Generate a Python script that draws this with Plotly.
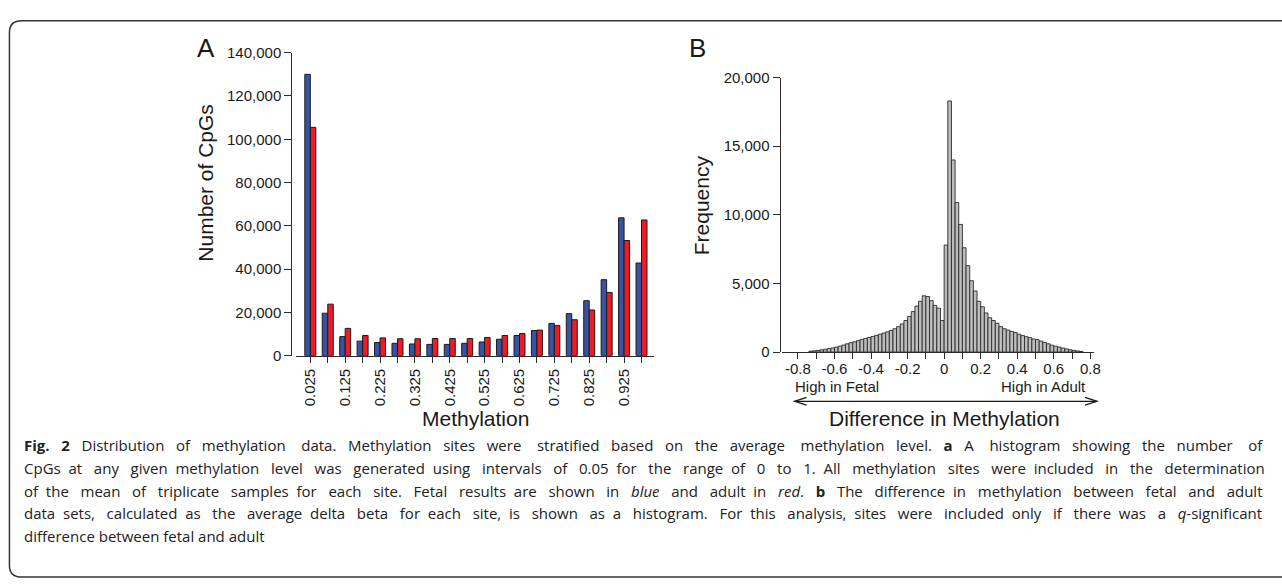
import plotly.graph_objects as go

W, H = 1282, 586

def px(x):
    return x / W

def py(y):
    return 1 - y / H

# ---------------- Panel A data ----------------
meth_bins = [0.025, 0.075, 0.125, 0.175, 0.225, 0.275, 0.325, 0.375, 0.425, 0.475,
             0.525, 0.575, 0.625, 0.675, 0.725, 0.775, 0.825, 0.875, 0.925, 0.975]
meth_labels = ["0.025", "", "0.125", "", "0.225", "", "0.325", "", "0.425", "",
               "0.525", "", "0.625", "", "0.725", "", "0.825", "", "0.925", ""]
fetal_counts = [130000, 19600, 8800, 6700, 6100, 5700, 5400, 5200, 5200, 5700,
                6300, 7600, 9300, 11600, 14900, 19400, 25400, 35100, 63700, 42800]
adult_counts = [105500, 23800, 12600, 9300, 8200, 7800, 7800, 7900, 7900, 7900,
                8400, 9300, 10200, 11800, 13900, 16600, 21100, 29200, 53200, 62700]
countA_ticks = [0, 20000, 40000, 60000, 80000, 100000, 120000, 140000]

# ---------------- Panel B data ----------------
diff_centers = [-0.73, -0.71, -0.69, -0.67, -0.65, -0.63, -0.61, -0.59, -0.57, -0.55,
                -0.53, -0.51, -0.49, -0.47, -0.45, -0.43, -0.41, -0.39, -0.37, -0.35,
                -0.33, -0.31, -0.29, -0.27, -0.25, -0.23, -0.21, -0.19, -0.17, -0.15,
                -0.13, -0.11, -0.09, -0.07, -0.05, -0.03, -0.01, 0.01, 0.03, 0.05,
                0.07, 0.09, 0.11, 0.13, 0.15, 0.17, 0.19, 0.21, 0.23, 0.25,
                0.27, 0.29, 0.31, 0.33, 0.35, 0.37, 0.39, 0.41, 0.43, 0.45,
                0.47, 0.49, 0.51, 0.53, 0.55, 0.57, 0.59, 0.61, 0.63, 0.65,
                0.67, 0.69, 0.71, 0.73, 0.75]
diff_freq = [60, 90, 120, 160, 200, 250, 300, 360, 430, 510,
             600, 680, 750, 830, 920, 990, 1060, 1140, 1220, 1300,
             1380, 1470, 1580, 1700, 1850, 2050, 2300, 2600, 2950, 3350,
             3700, 4100, 4050, 3750, 3400, 3200, 2300, 7800, 18300, 14000,
             10900, 9300, 7600, 6300, 5200, 4450, 3700, 3300, 2850, 2500,
             2300, 2100, 1850, 1700, 1600, 1500, 1420, 1300, 1200, 1120,
             1050, 950, 900, 800, 700, 600, 500, 430, 360, 290,
             230, 170, 120, 80, 40]
diffB_ticks = [-0.8, -0.7, -0.6, -0.5, -0.4, -0.3, -0.2, -0.1, 0, 0.1, 0.2, 0.3, 0.4, 0.5, 0.6, 0.7, 0.8]
diffB_labels = ["-0.8", "", "-0.6", "", "-0.4", "", "-0.2", "", "0", "", "0.2", "", "0.4", "", "0.6", "", "0.8"]
freqB_ticks = [0, 5000, 10000, 15000, 20000]

caption_lines = [
    "<b>Fig. 2</b> Distribution of methylation data. Methylation sites were stratified based on the average methylation level. <b>a</b> A histogram showing the number of",
    "CpGs at any given methylation level was generated using intervals of 0.05 for the range of 0 to 1. All methylation sites were included in the determination",
    "of the mean of triplicate samples for each site. Fetal results are shown in <i>blue</i> and adult in <i>red</i>. <b>b</b> The difference in methylation between fetal and adult",
    "data sets, calculated as the average delta beta for each site, is shown as a histogram. For this analysis, sites were included only if there was a <i>q</i>-significant",
    "difference between fetal and adult",
]
# extra non-breaking spaces per line to emulate the justified caption
caption_extra = [49, 45, 49, 44, 0]

AX = "#2b2b2b"
TXT = "#1a1a1a"
FONT = "Liberation Sans, Arial, sans-serif"

fig = go.Figure()
fig.add_trace(go.Bar(x=meth_bins, y=fetal_counts, name="Fetal",
                     marker=dict(color="#3953a4", line=dict(color="#1a1a1a", width=1)),
                     xaxis="x", yaxis="y"))
fig.add_trace(go.Bar(x=meth_bins, y=adult_counts, name="Adult",
                     marker=dict(color="#ec1c24", line=dict(color="#1a1a1a", width=1)),
                     xaxis="x", yaxis="y"))
fig.add_trace(go.Bar(x=diff_centers, y=diff_freq, width=0.02, name="Difference",
                     marker=dict(color="#bdbdbd", line=dict(color="#2b2b2b", width=0.9)),
                     xaxis="x2", yaxis="y2"))

axis_common = dict(showgrid=False, zeroline=False, showline=True, linecolor=AX, linewidth=1.3,
                   ticks="outside", tickcolor=AX, tickwidth=1.3,
                   tickfont=dict(family=FONT, size=15, color=TXT))

fig.update_layout(
    width=W, height=H, margin=dict(l=0, r=0, t=0, b=0),
    paper_bgcolor="white", plot_bgcolor="white",
    showlegend=False, barmode="group", bargap=0.37, bargroupgap=0,
    xaxis=dict(domain=[px(298), px(658)], range=[-0.015, 1.012], anchor="y",
               tickmode="array", tickvals=meth_bins, ticktext=meth_labels,
               tickangle=-90, ticklen=6, **axis_common),
    yaxis=dict(domain=[py(357), py(45)], range=[0, 140000], anchor="free", position=px(293),
               tickmode="array", tickvals=countA_ticks, tickformat=",", ticklen=7, **axis_common),
    xaxis2=dict(domain=[px(786.7), px(1100)], range=[-0.885, 0.82], anchor="y2",
                tickmode="array", tickvals=diffB_ticks, ticktext=diffB_labels,
                tickangle=0, ticklen=6, ticklabelstandoff=-3, **axis_common),
    yaxis2=dict(domain=[py(353.3), py(70.7)], range=[0, 20000], anchor="free", position=px(784),
                tickmode="array", tickvals=freqB_ticks, tickformat=",", ticklen=7, **axis_common),
)

ann = []
def text(x, y, s, size, angle=0, xanchor="center", family=FONT, color=TXT):
    ann.append(dict(x=px(x), y=py(y), xref="paper", yref="paper", text=s, showarrow=False,
                    xanchor=xanchor, yanchor="middle", textangle=angle,
                    font=dict(family=family, size=size, color=color)))

def justify(line, n_extra):
    words = line.split(" ")
    gaps = len(words) - 1
    if n_extra <= 0 or gaps <= 0:
        return line
    out = words[0]
    for i in range(gaps):
        k = (i + 1) * n_extra // gaps - i * n_extra // gaps
        out += " " + "\u00a0" * k + words[i + 1]
    return out

text(207, 40, "A", 26)
text(701, 40, "B", 26)
text(207, 179, "Number of CpGs", 21, angle=-90)
text(705, 202, "Frequency", 21, angle=-90)
text(478, 422, "Methylation", 21)
text(950, 422, "Difference in Methylation", 21)
text(797, 389, "High in Fetal", 15, xanchor="left")
text(1094, 389, "High in Adult", 15, xanchor="right")

cap_y = [449, 472.5, 496, 519.5, 543]
for yy, line, ex in zip(cap_y, caption_lines, caption_extra):
    text(22, yy, justify(line, ex), 15, xanchor="left", family="Open Sans, sans-serif", color="#222222")

fig.update_layout(annotations=ann)

def P(x, y):
    return f"{px(x):.5f},{py(y):.5f}"

shapes = []
# double-headed arrow under panel B
shapes.append(dict(type="path", xref="paper", yref="paper",
                   path=f"M{P(799,404)} L{P(1103,404)}",
                   line=dict(color=TXT, width=1.3)))
shapes.append(dict(type="path", xref="paper", yref="paper",
                   path=f"M{P(811,400)} L{P(799,404)} L{P(811,408)}",
                   line=dict(color=TXT, width=1.3)))
shapes.append(dict(type="path", xref="paper", yref="paper",
                   path=f"M{P(1091,400)} L{P(1103,404)} L{P(1091,408)}",
                   line=dict(color=TXT, width=1.3)))
# rounded frame
shapes.append(dict(type="path", xref="paper", yref="paper",
                   path=(f"M{P(1300,12)} L{P(22,12)} Q{P(9.5,12)} {P(9.5,24)} "
                         f"L{P(9.5,573)} Q{P(9.5,585)} {P(22,585)} L{P(1300,585)}"),
                   line=dict(color="#333333", width=1.5)))
fig.update_layout(shapes=shapes)

fig.write_html("out.html")
